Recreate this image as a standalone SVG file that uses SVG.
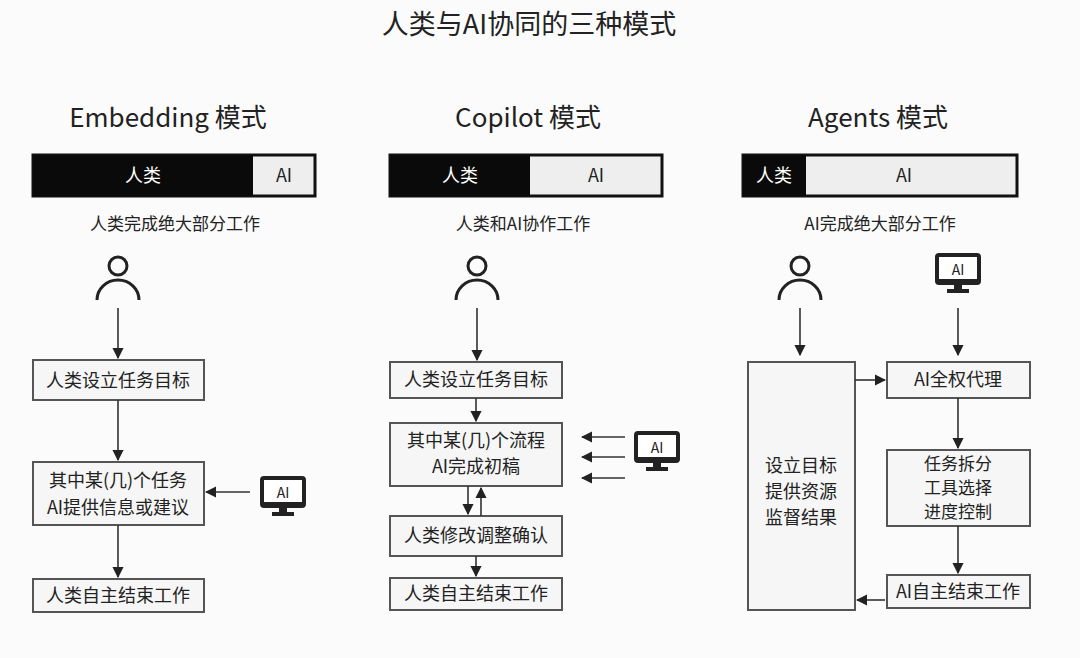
<svg xmlns="http://www.w3.org/2000/svg" width="1080" height="658" viewBox="0 0 1080 658">
<style>
text{font-family:"Noto Sans CJK SC","Liberation Sans",sans-serif;fill:#222;text-anchor:middle}
.t{font-size:27px}.h{font-size:26px}.s{font-size:17px}.b{font-size:18px}.m{font-size:17px}
.box{fill:#f6f6f6;stroke:#555;stroke-width:2}
.ln{stroke:#333;stroke-width:1.6;fill:none}
.ic{stroke:#222;stroke-width:3;fill:none}
</style>
<defs>
<marker id="ar" viewBox="0 0 10 10" refX="9" refY="5" markerWidth="7" markerHeight="7" orient="auto"><path d="M0,0L10,5L0,10z" fill="#222"/></marker>
<g id="person"><circle cx="0" cy="-16" r="9" class="ic"/><path d="M-21,18 A21,20 0 0 1 21,18" class="ic"/></g>
<g id="mon"><rect x="-21" y="-16" width="42" height="28" rx="2" fill="#fff" stroke="#222" stroke-width="4"/><rect x="-21" y="8" width="42" height="5" fill="#222"/><rect x="-4" y="13" width="8" height="6" fill="#222"/><rect x="-11" y="18" width="22" height="4" fill="#222"/><text x="0" y="4" style="font-size:14px">AI</text></g>
</defs>
<rect width="1080" height="658" fill="#fbfbfb"/>
<text x="529" y="34" class="t">人类与AI协同的三种模式</text>
<g id="headers">
<text x="168" y="127" class="h">Embedding 模式</text>
<text x="528" y="127" class="h">Copilot 模式</text>
<text x="878" y="127" class="h">Agents 模式</text>
</g>
<g id="bars">
<rect x="33" y="155" width="282" height="41" fill="#eee" stroke="#111" stroke-width="3"/><rect x="33" y="155" width="220" height="41" fill="#0a0a0a"/>
<text x="143" y="182" class="b" style="fill:#fff">人类</text><text x="284" y="182" class="b">AI</text>
<rect x="390" y="155" width="272" height="41" fill="#eee" stroke="#111" stroke-width="3"/><rect x="390" y="155" width="140" height="41" fill="#0a0a0a"/>
<text x="460" y="182" class="b" style="fill:#fff">人类</text><text x="596" y="182" class="b">AI</text>
<rect x="743" y="155" width="274" height="41" fill="#eee" stroke="#111" stroke-width="3"/><rect x="743" y="155" width="63" height="41" fill="#0a0a0a"/>
<text x="774" y="182" class="b" style="fill:#fff">人类</text><text x="904" y="182" class="b">AI</text>
</g>
<text x="175" y="230" class="s">人类完成绝大部分工作</text>
<text x="523" y="230" class="s">人类和AI协作工作</text>
<text x="880" y="230" class="s">AI完成绝大部分工作</text>
<g id="icons">
<use href="#person" x="118" y="282"/><use href="#mon" x="283" y="494"/>
<use href="#person" x="477" y="282"/><use href="#mon" x="657" y="449"/>
<use href="#person" x="800" y="282"/><use href="#mon" x="958" y="271"/>
</g>
<g id="n1"><rect class="box" x="33" y="360" width="171" height="40"/><text x="118" y="387" class="b">人类设立任务目标</text></g>
<g id="n2"><rect class="box" x="33" y="462" width="171" height="63"/><text x="118" y="487" class="b">其中某(几)个任务</text><text x="118" y="514" class="b">AI提供信息或建议</text></g>
<g id="n3"><rect class="box" x="33" y="579" width="171" height="33"/><text x="118" y="602" class="b">人类自主结束工作</text></g>
<g id="c1"><rect class="box" x="390" y="362" width="172" height="36"/><text x="476" y="386" class="b">人类设立任务目标</text></g>
<g id="c2"><rect class="box" x="390" y="423" width="172" height="63"/><text x="476" y="447" class="b">其中某(几)个流程</text><text x="476" y="473" class="b">AI完成初稿</text></g>
<g id="c3"><rect class="box" x="390" y="516" width="172" height="40"/><text x="476" y="542" class="b">人类修改调整确认</text></g>
<g id="c4"><rect class="box" x="390" y="578" width="172" height="32"/><text x="476" y="600" class="b">人类自主结束工作</text></g>
<g id="a0"><rect class="box" x="748" y="362" width="107" height="248"/><text x="801" y="472" class="b">设立目标</text><text x="801" y="498" class="b">提供资源</text><text x="801" y="524" class="b">监督结果</text></g>
<g id="a1"><rect class="box" x="887" y="362" width="143" height="36"/><text x="958" y="386" class="b">AI全权代理</text></g>
<g id="a2"><rect class="box" x="887" y="450" width="143" height="76"/><text x="958" y="470" class="m">任务拆分</text><text x="958" y="494" class="m">工具选择</text><text x="958" y="518" class="m">进度控制</text></g>
<g id="a3"><rect class="box" x="887" y="575" width="143" height="33"/><text x="958" y="598" class="b">AI自主结束工作</text></g>
<g id="connectors" marker-end="url(#ar)">
<line class="ln" x1="118" y1="308" x2="118" y2="358"/>
<line class="ln" x1="118" y1="400" x2="118" y2="460"/>
<line class="ln" x1="118" y1="525" x2="118" y2="577"/>
<line class="ln" x1="250" y1="492" x2="206" y2="492"/>
<line class="ln" x1="477" y1="308" x2="477" y2="360"/>
<line class="ln" x1="476" y1="398" x2="476" y2="421"/>
<line class="ln" x1="468" y1="486" x2="468" y2="514"/>
<line class="ln" x1="481" y1="516" x2="481" y2="488"/>
<line class="ln" x1="476" y1="556" x2="476" y2="576"/>
<line class="ln" x1="625" y1="437" x2="582" y2="437"/>
<line class="ln" x1="625" y1="457" x2="582" y2="457"/>
<line class="ln" x1="625" y1="478" x2="582" y2="478"/>
<line class="ln" x1="800" y1="308" x2="800" y2="355"/>
<line class="ln" x1="958" y1="308" x2="958" y2="355"/>
<line class="ln" x1="855" y1="380" x2="885" y2="380"/>
<line class="ln" x1="958" y1="398" x2="958" y2="448"/>
<line class="ln" x1="958" y1="526" x2="958" y2="573"/>
<line class="ln" x1="885" y1="600" x2="857" y2="600"/>
</g>
</svg>
